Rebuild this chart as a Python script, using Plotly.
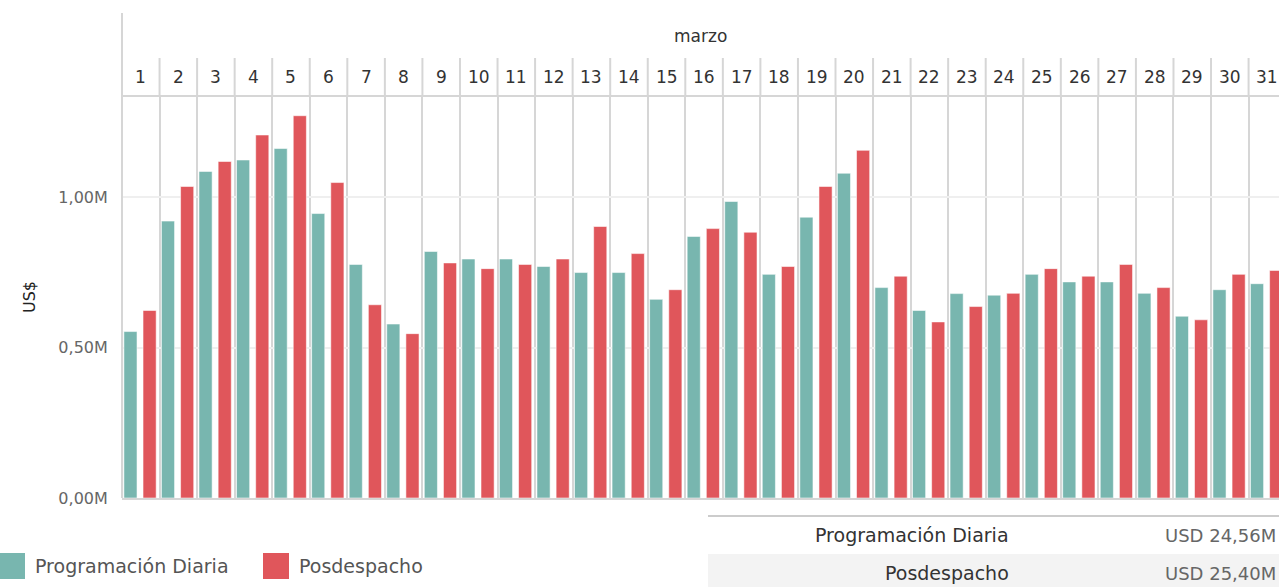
import plotly.graph_objects as go

days = [str(d) for d in range(1, 32)]
month_label = "marzo"
series_names = ["Programación Diaria", "Posdespacho"]
programacion = [0.553, 0.920, 1.085, 1.123, 1.161, 0.945, 0.776, 0.578, 0.819, 0.794,
                0.794, 0.769, 0.749, 0.749, 0.660, 0.869, 0.985, 0.743, 0.933, 1.079,
                0.699, 0.623, 0.679, 0.674, 0.743, 0.718, 0.718, 0.680, 0.604, 0.692, 0.712]
posdespacho = [0.623, 1.035, 1.118, 1.206, 1.270, 1.048, 0.642, 0.546, 0.781, 0.762,
               0.776, 0.794, 0.902, 0.812, 0.692, 0.895, 0.883, 0.769, 1.035, 1.155,
               0.737, 0.585, 0.636, 0.680, 0.762, 0.737, 0.776, 0.699, 0.592, 0.743, 0.756]
totals = ["USD 24,56M", "USD 25,40M"]
y_ticks = [0, 0.5, 1.0]
y_tick_text = [f"{v:.2f}".replace(".", ",") + "M" for v in y_ticks]

TEAL = "#78b6af"
RED = "#e0565b"
GRID_V = "#d6d6d6"
FONT = "DejaVu Sans"

W, H = 1279, 587
ML, MR, MT, MB = 122, 0, 13, 89
PH = H - MT - MB
PW = W - ML - MR


def py(px):
    return (H - MB - px) / PH


def px_(x):
    return (x - ML) / PW


dom_top = py(97)

fig = go.Figure()
fig.add_trace(go.Bar(x=days, y=programacion, name=series_names[0], marker_color=TEAL,
                     marker_line=dict(color="rgba(255,255,255,0.55)", width=1),
                     width=0.35, offset=-0.45, showlegend=False))
fig.add_trace(go.Bar(x=days, y=posdespacho, name=series_names[1], marker_color=RED,
                     marker_line=dict(color="rgba(255,255,255,0.55)", width=1),
                     width=0.35, offset=0.06, showlegend=False))

shapes = []
annotations = []
for i in range(1, len(days)):
    shapes.append(dict(type="line", xref="x", yref="paper", x0=i - 0.5, x1=i - 0.5,
                       y0=dom_top, y1=py(58), line=dict(color=GRID_V, width=2)))
shapes.append(dict(type="line", xref="paper", yref="paper", x0=0, x1=0, y0=0, y1=1,
                   line=dict(color=GRID_V, width=2)))
for i, d in enumerate(days):
    annotations.append(dict(x=i, xref="x", y=py(77), yref="paper", text=d, showarrow=False,
                            font=dict(family=FONT, size=17, color="#333333"),
                            xanchor="center", yanchor="middle"))
annotations.append(dict(x=0.5, xref="paper", y=py(36), yref="paper", text=month_label,
                        showarrow=False, yanchor="middle",
                        font=dict(family=FONT, size=17, color="#333333")))
annotations.append(dict(x=px_(18), xref="paper", y=dom_top / 2, yref="paper", text="US$",
                        textangle=-90, showarrow=False,
                        font=dict(family=FONT, size=16, color="#222222")))
leg_colors = [TEAL, RED]
leg_x = [0, 264]
for name, c, lx in zip(series_names, leg_colors, leg_x):
    shapes.append(dict(type="rect", xref="paper", yref="paper", x0=px_(lx - 1), x1=px_(lx + 25),
                       y0=py(579), y1=py(553), fillcolor=c, line=dict(width=0)))
    annotations.append(dict(x=px_(lx + 33), xref="paper", y=py(566), yref="paper", text=name,
                            showarrow=False, xanchor="left", yanchor="middle",
                            font=dict(family=FONT, size=19, color="#555555")))
shapes.append(dict(type="line", xref="paper", yref="paper", x0=px_(708), x1=1, y0=py(516),
                   y1=py(516), line=dict(color="#cccccc", width=2)))
shapes.append(dict(type="rect", xref="paper", yref="paper", x0=px_(708), x1=1, y0=py(588),
                   y1=py(554), fillcolor="#f3f3f3", line=dict(width=0), layer="below"))
row_y = [535, 573]
for name, tot, ry in zip(series_names, totals, row_y):
    annotations.append(dict(x=px_(1011), xref="paper", y=py(ry), yref="paper", text=name,
                            showarrow=False, xanchor="right", yanchor="middle",
                            font=dict(family=FONT, size=19, color="#333333")))
    annotations.append(dict(x=px_(1278), xref="paper", y=py(ry), yref="paper", text=tot,
                            showarrow=False, xanchor="right", yanchor="middle",
                            font=dict(family=FONT, size=18, color="#666666")))

fig.update_layout(
    width=W, height=H,
    margin=dict(l=ML, r=MR, t=MT, b=MB, pad=0),
    plot_bgcolor="white", paper_bgcolor="white",
    barmode="group",
    shapes=shapes, annotations=annotations,
    xaxis=dict(type="category", categoryorder="array", categoryarray=days,
               range=[-0.5, 30.31], tickson="boundaries", showgrid=True,
               gridcolor=GRID_V, gridwidth=2, showticklabels=False, ticks="",
               showline=True, mirror=True, linecolor=GRID_V, linewidth=2,
               zeroline=False, fixedrange=True),
    yaxis=dict(domain=[0, dom_top], range=[0, 401 / 301], tickvals=y_ticks,
               ticktext=y_tick_text, showgrid=True, gridcolor="#efefef",
               gridwidth=2, zeroline=False, ticks="outside", ticklen=10,
               tickcolor="rgba(0,0,0,0)", showline=False,
               tickfont=dict(family=FONT, size=16, color="#666666")),
    showlegend=False,
)

fig.write_html("out.html", config={"displayModeBar": False},
               post_script="document.body.style.margin='0';document.body.style.overflow='hidden';")
